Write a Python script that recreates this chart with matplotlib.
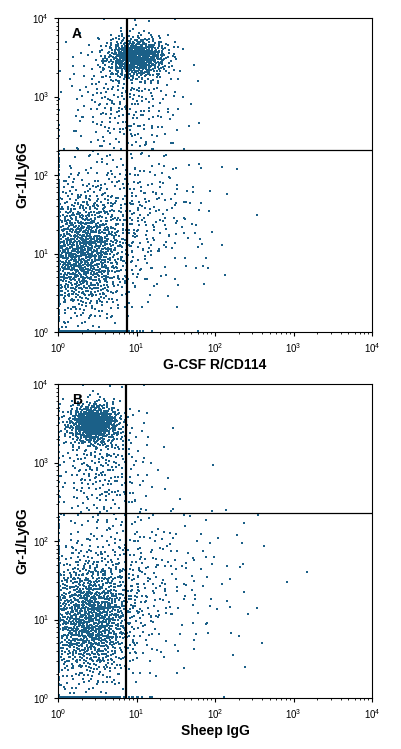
import numpy as np
import matplotlib
matplotlib.use("Agg")
import matplotlib.pyplot as plt

plt.rcParams['font.family'] = ['Liberation Sans', 'DejaVu Sans']

dot_color = "#1b6088"

# cluster parameters: (log x centre, log y centre, sd x, sd y, count)
clusters_a = [
    (1.00, 3.50, 0.20, 0.13, 650),
    (0.85, 3.00, 0.35, 0.40, 300),
    (0.30, 1.00, 0.30, 0.40, 1300),
    (0.80, 1.50, 0.45, 0.50, 300),
    (1.40, 1.40, 0.40, 0.50, 80),
    (0.45, -0.30, 0.25, 0.10, 200),
    (-0.30, 1.20, 0.10, 0.50, 150),
]
clusters_b = [
    (0.45, 3.50, 0.17, 0.13, 650),
    (0.55, 3.00, 0.30, 0.40, 300),
    (0.40, 1.00, 0.30, 0.40, 1300),
    (0.80, 1.50, 0.45, 0.50, 300),
    (1.60, 1.50, 0.55, 0.60, 110),
    (0.45, -0.30, 0.25, 0.10, 200),
    (-0.30, 1.20, 0.10, 0.50, 150),
]
gate_a = (7.6, 210)
gate_b = (7.3, 228)
xlabels = ["G-CSF R/CD114", "Sheep IgG"]
panel_labels = ["A", "B"]


def halton(n, base):
    out = np.zeros(n)
    for i in range(n):
        f, r, k = 1.0, 0.0, i + 1
        while k > 0:
            f /= base
            r += f * (k % base)
            k //= base
        out[i] = r
    return out


def cluster_points(clusters):
    xs, ys = [], []
    offset = 37
    for cx, cy, sx, sy, n in clusters:
        u1 = halton(n + offset, 2)[offset:]
        u2 = halton(n + offset, 3)[offset:]
        offset += n
        rad = np.sqrt(-2 * np.log(np.clip(u1, 1e-9, 1)))
        xs.append(cx + sx * rad * np.cos(2 * np.pi * u2))
        ys.append(cy + sy * rad * np.sin(2 * np.pi * u2))
    x = np.clip(np.concatenate(xs), 0.015, 3.99)
    y = np.clip(np.concatenate(ys), 0.015, 3.99)
    return 10 ** x, 10 ** y


fig = plt.figure(figsize=(4.01, 7.49), dpi=100)
axes = [fig.add_axes([58 / 401, 1 - 332 / 749, 314 / 401, 314 / 749]),
        fig.add_axes([58 / 401, 1 - 698 / 749, 314 / 401, 314 / 749])]

for ax, cl, gate, xl, pl in zip(axes, [clusters_a, clusters_b], [gate_a, gate_b],
                                xlabels, panel_labels):
    x, y = cluster_points(cl)
    ax.scatter(x, y, s=2.0, marker='s', c=dot_color, linewidths=0)
    ax.set_xscale('log')
    ax.set_yscale('log')
    ax.set_xlim(1, 1e4)
    ax.set_ylim(1, 1e4)
    ax.axvline(gate[0], color='black', lw=1.6)
    ax.axhline(gate[1], color='black', lw=0.9)
    ax.set_xlabel(xl, fontsize=10, fontweight='bold', labelpad=2)
    ax.set_ylabel("Gr-1/Ly6G", fontsize=10, fontweight='bold', labelpad=2)
    ax.text(0.045, 0.95, pl, transform=ax.transAxes, fontsize=10,
            fontweight='bold', va='center')
    ax.tick_params(labelsize=7, length=3)
    ax.tick_params(which='minor', length=1.5)
    for s in ax.spines.values():
        s.set_linewidth(0.8)

fig.savefig("out.png", dpi=100)
